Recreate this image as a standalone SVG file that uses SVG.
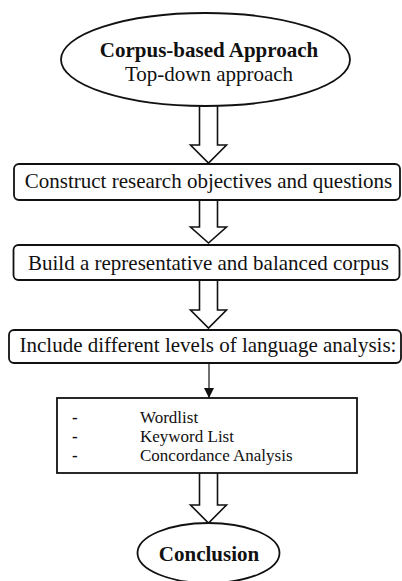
<svg xmlns="http://www.w3.org/2000/svg" width="402" height="581" viewBox="0 0 402 581">
<style>
text{font-family:"Liberation Serif","Times New Roman",serif;fill:#111;}
.t{font-size:21px;text-anchor:middle;}
.b{font-weight:bold;}
.l{font-size:17px;}
.node{fill:#fff;stroke:#111;stroke-width:1.8;}
.blk{fill:#fff;stroke:#111;stroke-width:1.6;stroke-linejoin:miter;}
</style>
<defs>
<marker id="ah" markerWidth="10" markerHeight="10" refX="10" refY="5" orient="auto" markerUnits="userSpaceOnUse">
<path d="M0,0 L10,5 L0,10 Z" fill="#111"/>
</marker>
</defs>
<rect width="402" height="581" fill="#fff"/>
<g id="connectors">
<path class="blk" d="M199.5,106 V145 H190.5 L208.5,163 L226.5,145 H217.5 V106"/>
<path class="blk" d="M199.5,200 V227 H190.5 L208.5,243 L226.5,227 H217.5 V200"/>
<path class="blk" d="M199.5,280 V310 H190.5 L208.5,328 L226.5,310 H217.5 V280"/>
<line x1="209" y1="363" x2="209" y2="398" stroke="#111" stroke-width="1.2" marker-end="url(#ah)"/>
<path class="blk" d="M199.5,473 V505 H190.5 L208.5,523 L226.5,505 H217.5 V473"/>
</g>
<g id="start">
<ellipse class="node" cx="205.5" cy="59.5" rx="144.5" ry="46.5"/>
<text class="t b" x="209" y="57">Corpus-based Approach</text>
<text class="t" x="209" y="81">Top-down approach</text>
</g>
<g id="objectives">
<rect class="node" x="14" y="164" width="386" height="36" rx="5"/>
<text class="t" x="208.5" y="188">Construct research objectives and questions</text>
</g>
<g id="corpus">
<rect class="node" x="13.5" y="245" width="386" height="35" rx="5"/>
<text class="t" x="208.5" y="270">Build a representative and balanced corpus</text>
</g>
<g id="levels">
<rect class="node" x="9" y="330" width="392" height="33" rx="5"/>
<text class="t" x="208" y="352">Include different levels of language analysis:</text>
</g>
<g id="analyses">
<rect class="node" x="57" y="398" width="300" height="75"/>
<text class="l b" x="72" y="423">-</text>
<text class="l" x="140" y="423">Wordlist</text>
<text class="l b" x="72" y="442">-</text>
<text class="l" x="140" y="442">Keyword List</text>
<text class="l b" x="72" y="461">-</text>
<text class="l" x="140" y="461">Concordance Analysis</text>
</g>
<g id="conclusion">
<ellipse class="node" cx="208.5" cy="553" rx="71" ry="30"/>
<text class="t b" x="209" y="561">Conclusion</text>
</g>
</svg>
